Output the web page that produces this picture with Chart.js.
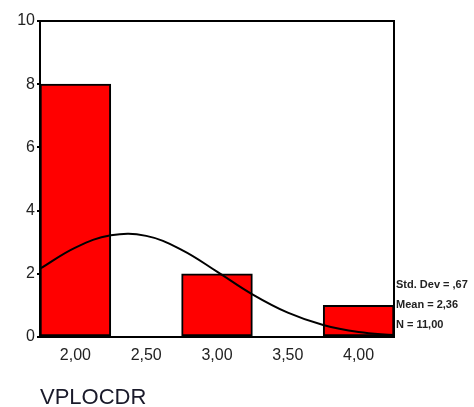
<!DOCTYPE html>
<html>
<head>
<meta charset="utf-8">
<script src="https://cdn.jsdelivr.net/npm/chart.js@4"></script>
<style>
  html, body { margin: 0; padding: 0; background: #fff; }
  #wrap { width: 474px; height: 407px; }
</style>
</head>
<body>
<div id="wrap"><canvas id="chart"></canvas></div>
<script>
// histogram data (VPLOCDR)
const binCenters = [2.0, 3.0, 4.0];
const binCounts = [8, 2, 1];
// normal curve
const curveX = [1.75, 2.0, 2.25, 2.5, 2.75, 3.0, 3.25, 3.5, 3.75, 4.0, 4.25];
const curveY = [2.16, 2.83, 3.22, 3.2, 2.76, 2.07, 1.35, 0.77, 0.38, 0.16, 0.06];
const xTicks = [2.0, 2.5, 3.0, 3.5, 4.0];
const yTicks = [0, 2, 4, 6, 8, 10];
const statLines = ['Std. Dev = ,67', 'Mean = 2,36', 'N = 11,00'];
const xTitle = 'VPLOCDR';

const fmt = v => v.toFixed(2).replace('.', ',');

// frame + side stats + axis title
const extras = {
    id: 'extras',
    afterDraw(chart) {
        const { ctx, chartArea: a } = chart;
        ctx.save();
        ctx.strokeStyle = '#000';
        ctx.lineWidth = 2;
        ctx.strokeRect(a.left, a.top, a.right - a.left, a.bottom - a.top);

        ctx.fillStyle = '#222';
        ctx.font = 'bold 11px "Liberation Sans", Arial, sans-serif';
        ctx.textBaseline = 'middle';
        ctx.textAlign = 'left';
        statLines.forEach((t, i) => ctx.fillText(t, a.right + 2, 285 + i * 20));

        ctx.font = '22px "Liberation Sans", Arial, sans-serif';
        ctx.fillStyle = '#1a1a2a';
        ctx.fillText(xTitle, 40, 398);
        ctx.restore();
    }
};

const ctx = document.getElementById('chart').getContext('2d');
new Chart(ctx, {
    type: 'bar',
    data: {
        datasets: [
            {
                type: 'line',
                data: curveX.map((x, i) => ({ x: x, y: curveY[i] })),
                borderColor: '#000',
                borderWidth: 2,
                pointRadius: 0,
                tension: 0.4,
                fill: false,
                order: 0,
            },
            {
                type: 'bar',
                data: binCenters.map((x, i) => ({ x: x, y: binCounts[i] })),
                backgroundColor: '#ff0000',
                borderColor: '#000',
                borderWidth: 2,
                borderSkipped: false,
                barPercentage: 1,
                categoryPercentage: 1,
                order: 1,
            },
        ],
    },
    options: {
        responsive: true,
        maintainAspectRatio: false,
        animation: false,
        layout: { padding: { top: 21, right: 80, left: 0, bottom: 0 } },
        plugins: { legend: { display: false }, tooltip: { enabled: false } },
        scales: {
            x: {
                type: 'linear',
                offset: false,
                min: 1.75,
                max: 4.25,
                afterBuildTicks: s => { s.ticks = xTicks.map(v => ({ value: v })); },
                afterFit: s => { s.height = 70; },
                grid: { display: false },
                border: { display: false },
                ticks: {
                    color: '#222',
                    font: { size: 16, family: '"Liberation Sans", Arial, sans-serif' },
                    padding: 1,
                    maxRotation: 0,
                    callback: v => fmt(v),
                },
            },
            y: {
                min: 0,
                max: 10,
                afterBuildTicks: s => { s.ticks = yTicks.map(v => ({ value: v })); },
                afterFit: s => { s.width = 40; },
                grid: { display: true, drawOnChartArea: false, drawTicks: true, tickLength: 3, color: '#000', lineWidth: 2 },
                border: { display: false },
                ticks: {
                    color: '#222',
                    font: { size: 16, family: '"Liberation Sans", Arial, sans-serif' },
                    padding: 2,
                },
            },
        },
    },
    plugins: [extras],
});
</script>
</body>
</html>
